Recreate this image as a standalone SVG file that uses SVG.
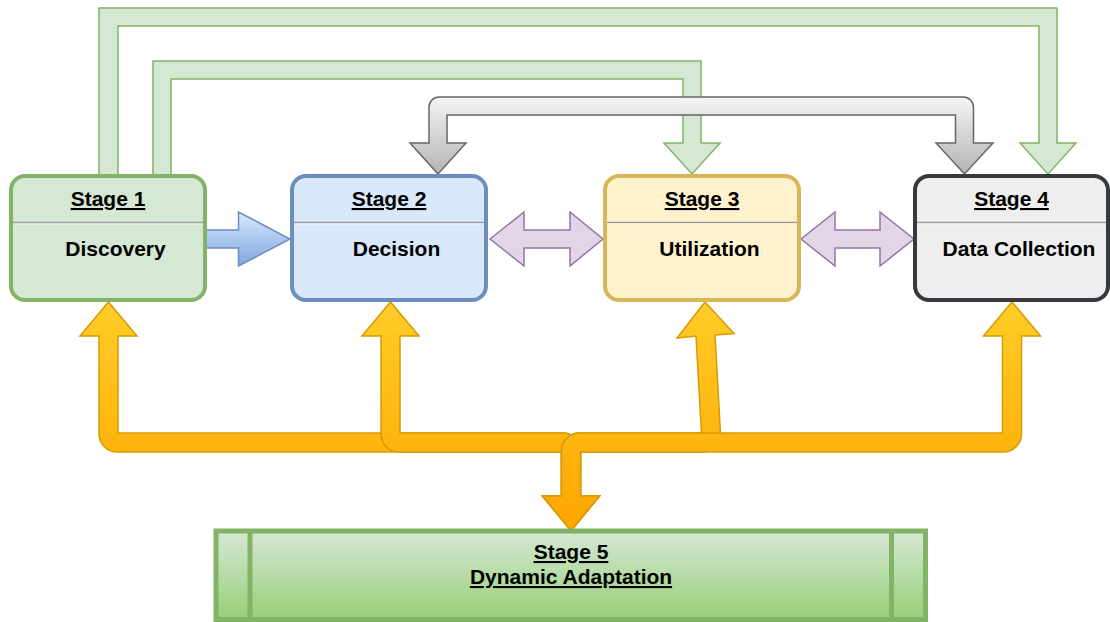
<svg xmlns="http://www.w3.org/2000/svg" width="1110" height="622" viewBox="0 0 1110 622">
  <defs>
    <linearGradient id="gOrange" gradientUnits="userSpaceOnUse" x1="0" y1="302" x2="0" y2="531">
      <stop offset="0" stop-color="#ffcd28"/>
      <stop offset="1" stop-color="#ffa500"/>
    </linearGradient>
    <linearGradient id="gGray" x1="0" y1="0" x2="0" y2="1">
      <stop offset="0" stop-color="#f5f5f5"/>
      <stop offset="1" stop-color="#b3b3b3"/>
    </linearGradient>
    <linearGradient id="gBlue" x1="0" y1="0" x2="0" y2="1">
      <stop offset="0" stop-color="#dae8fc"/>
      <stop offset="1" stop-color="#7ea6e0"/>
    </linearGradient>
    <linearGradient id="gGreen" x1="0" y1="0" x2="0" y2="1">
      <stop offset="0" stop-color="#d5e8d4"/>
      <stop offset="1" stop-color="#97d077"/>
    </linearGradient>
  </defs>
  <style>
    .green-arrow { fill: #d5e8d4; stroke: #82b366; stroke-width: 1.5; }
    .gray-arrow { fill: url(#gGray); stroke: #666666; stroke-width: 1.5; }
    .blue-arrow { fill: url(#gBlue); stroke: #6c8ebf; stroke-width: 1.5; }
    .purple-arrow { fill: #e1d5e7; stroke: #9673a6; stroke-width: 1.5; }
    .orange-arrow { fill: url(#gOrange); stroke: #d79b00; stroke-width: 1.5; }
    .box { stroke-width: 4; }
    .divider { stroke: #9a9a9a; stroke-width: 1.6; }
    .divider-hi { stroke: #ffffff; stroke-opacity: 0.7; stroke-width: 1; }
    text { font-family: "Liberation Sans", Arial, Helvetica, sans-serif; font-weight: bold; font-size: 21px; fill: #000000; text-anchor: middle; }
    .title { text-decoration: underline; }
  </style>

  <!-- connectors -->
  <g id="connectors">
    <!-- Stage 1 to Stage 4 (outer loop) -->
    <path class="green-arrow" d="M99,176 L99,8 L1057,8 L1057,143 L1076,143 L1048,174 L1020,143 L1039,143 L1039,26 L118,26 L118,176"/>
    <!-- Stage 1 to Stage 3 -->
    <path class="green-arrow" d="M153,176 L153,61 L701,61 L701,143 L720,143 L692,174 L664,143 L683,143 L683,79 L171,79 L171,176"/>
    <!-- Stage 2 / Stage 4 two-way link -->
    <path class="gray-arrow" d="M438,174 L410,143 L429,143 L429,107 A10,10 0 0 1 439,97 L963.5,97 A10,10 0 0 1 973.5,107 L973.5,143 L993,143 L964.5,174 L936,143 L955.5,143 L955.5,115 L447,115 L447,143 L466,143 Z"/>
    <!-- Stage 1 to Stage 2 -->
    <path class="blue-arrow" d="M205,230 L238.5,230 L238.5,212 L290,239 L238.5,266 L238.5,248 L205,248"/>
    <!-- Stage 2 / Stage 3 -->
    <path class="purple-arrow" d="M490,239 L524,212 L524,230 L570,230 L570,212 L603,239 L570,266 L570,248 L524,248 L524,266 Z"/>
    <!-- Stage 3 / Stage 4 -->
    <path class="purple-arrow" d="M801,239 L835,212 L835,230 L880,230 L880,212 L914,239 L880,266 L880,248 L835,248 L835,266 Z"/>
    <!-- Stage 5 feedback to each stage -->
    <path class="orange-arrow" d="M108.5,302 L137,336 L118,336 L118,433 L562.5,433 A18,18 0 0 1 580.5,451 L580.5,496 L599.5,496 L571,530.5 L542.5,496 L561.5,496 L561.5,452 L117,452 A18,18 0 0 1 99,434 L99,336 L80,336 Z"/>
    <path class="orange-arrow" d="M390.5,302 L419,336 L400,336 L400,433 L562.5,433 A18,18 0 0 1 580.5,451 L580.5,496 L599.5,496 L571,530.5 L542.5,496 L561.5,496 L561.5,452 L399,452 A18,18 0 0 1 381,434 L381,336 L362,336 Z"/>
    <path class="orange-arrow" d="M705,302 L734,333.5 L715,335 L720.5,434 A18,18 0 0 1 702.5,452 L580.5,452 L580.5,496 L599.5,496 L571,530.5 L542.5,496 L561.5,496 L561.5,451 A18,18 0 0 1 579.5,433 L701.5,433 L696,336 L677,338 Z"/>
    <path class="orange-arrow" d="M1012,302 L1040.5,336 L1021.5,336 L1021.5,434 A18,18 0 0 1 1003.5,452 L580.5,452 L580.5,496 L599.5,496 L571,530.5 L542.5,496 L561.5,496 L561.5,451 A18,18 0 0 1 579.5,433 L1002.5,433 L1002.5,336 L983.5,336 Z"/>
  </g>

  <!-- Stage 1 -->
  <g id="stage1">
    <rect class="box" x="11" y="176" width="194" height="124" rx="14" fill="#d5e8d4" stroke="#82b366"/>
    <line class="divider" x1="13" y1="222.5" x2="203" y2="222.5"/>
    <line class="divider-hi" x1="13" y1="224" x2="203" y2="224"/>
    <text class="title" x="108" y="206">Stage 1</text>
    <text x="115.5" y="256">Discovery</text>
  </g>

  <!-- Stage 2 -->
  <g id="stage2">
    <rect class="box" x="292" y="176" width="194" height="124" rx="14" fill="#dae8fc" stroke="#6c8ebf"/>
    <line class="divider" x1="294" y1="222.5" x2="484" y2="222.5"/>
    <line class="divider-hi" x1="294" y1="224" x2="484" y2="224"/>
    <text class="title" x="389" y="206">Stage 2</text>
    <text x="396.5" y="256">Decision</text>
  </g>

  <!-- Stage 3 -->
  <g id="stage3">
    <rect class="box" x="605" y="176" width="194" height="124" rx="14" fill="#fff2cc" stroke="#d6b656"/>
    <line class="divider" x1="607" y1="222.5" x2="797" y2="222.5"/>
    <line class="divider-hi" x1="607" y1="224" x2="797" y2="224"/>
    <text class="title" x="702" y="206">Stage 3</text>
    <text x="709.5" y="256">Utilization</text>
  </g>

  <!-- Stage 4 -->
  <g id="stage4">
    <rect class="box" x="915" y="176" width="193" height="124" rx="14" fill="#eeeeee" stroke="#36393d"/>
    <line class="divider" x1="917" y1="222.5" x2="1106" y2="222.5"/>
    <line class="divider-hi" x1="917" y1="224" x2="1106" y2="224"/>
    <text class="title" x="1011.5" y="206">Stage 4</text>
    <text x="1019" y="256">Data Collection</text>
  </g>

  <!-- Stage 5 -->
  <g id="stage5">
    <rect x="216" y="531" width="709.5" height="88.5" fill="url(#gGreen)" stroke="#82b366" stroke-width="5"/>
    <line x1="250" y1="531" x2="250" y2="619.5" stroke="#82b366" stroke-width="5"/>
    <line x1="891.5" y1="531" x2="891.5" y2="619.5" stroke="#82b366" stroke-width="5"/>
    <text class="title" x="571" y="559">Stage 5</text>
    <text class="title" x="571" y="584">Dynamic Adaptation</text>
  </g>
</svg>
